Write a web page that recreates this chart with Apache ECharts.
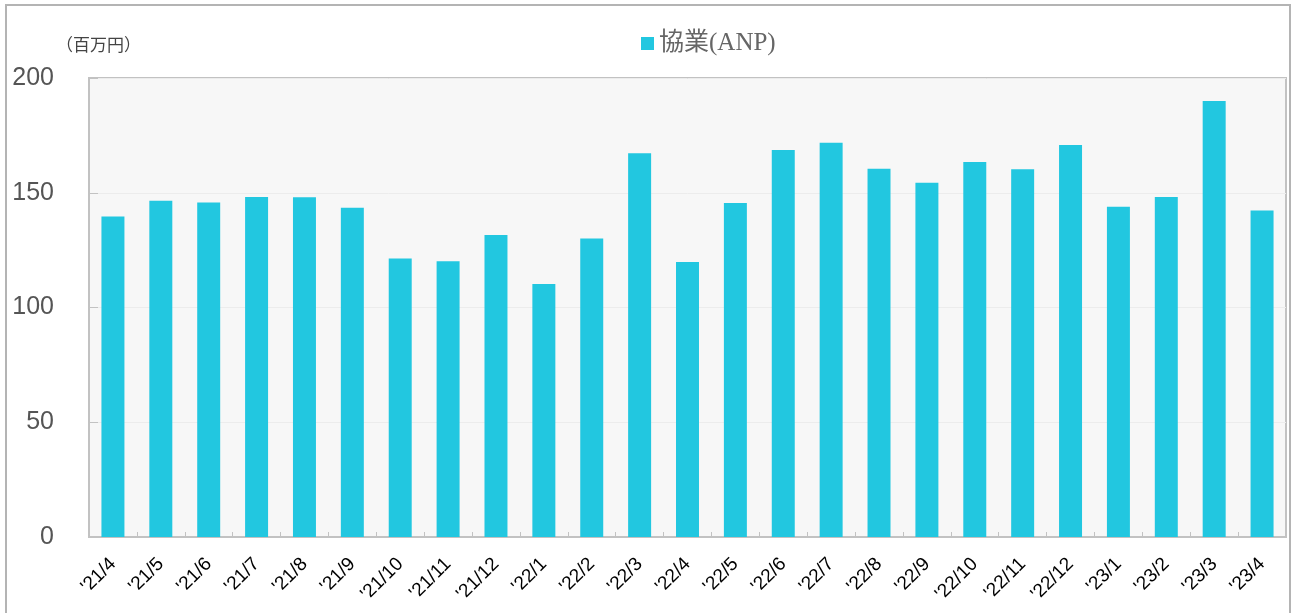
<!DOCTYPE html>
<html><head><meta charset="utf-8">
<script src="https://cdn.jsdelivr.net/npm/echarts@6/dist/echarts.min.js"></script>
<style>html,body{margin:0;padding:0;background:#fff}#c{width:1292px;height:613px}</style>
</head><body><div id="c"></div>
<script>
const categories = ["'21/4","'21/5","'21/6","'21/7","'21/8","'21/9","'21/10","'21/11","'21/12","'22/1","'22/2","'22/3","'22/4","'22/5","'22/6","'22/7","'22/8","'22/9","'22/10","'22/11","'22/12","'23/1","'23/2","'23/3","'23/4"];
const values = [139.6,146.5,145.7,148.1,148.0,143.5,121.3,120.1,131.6,110.2,130.1,167.2,119.8,145.5,168.6,171.8,160.5,154.4,163.4,160.2,170.8,143.9,148.1,190.0,142.3];
const seriesName = '協業(ANP)';
const unitLabel = '（百万円）';

const chart = echarts.init(document.getElementById('c'), null, {renderer:'canvas'});
chart.setOption({
  animation: false,
  backgroundColor: '#fff',
  graphic: [{
    type: 'rect', silent: true, z: -1,
    shape: {x: 6, y: 5, width: 1284, height: 700},
    style: {fill: 'none', stroke: '#b4b4b4', lineWidth: 2}
  }],
  title: {
    text: unitLabel, left: 51, top: 31,
    textStyle: {fontSize: 17, fontWeight: 'normal', color: '#444', fontFamily: "'Noto Sans CJK JP', sans-serif"}
  },
  legend: {
    left: 636, top: 26,
    itemWidth: 13, itemHeight: 13, itemGap: 10,
    icon: 'rect',
    textStyle: {fontSize: 25, color: '#666', fontFamily: "'Liberation Serif', 'Noto Sans CJK JP', serif"},
    data: [seriesName]
  },
  grid: {
    left: 89, right: 6, top: 78, bottom: 76,
    show: true, backgroundColor: '#f7f7f7', borderColor: '#c2c2c2', borderWidth: 2
  },
  xAxis: {
    type: 'category', data: categories,
    axisLine: {lineStyle: {color: '#c2c2c2', width: 2}},
    axisTick: {show: true, inside: true, length: 5, lineStyle: {color: '#c2c2c2'}},
    axisLabel: {rotate: 45, fontSize: 19, color: '#000', margin: 24, fontFamily: "'Liberation Sans', Arial, sans-serif", interval: 0}
  },
  yAxis: {
    type: 'value', min: 0, max: 200, interval: 50,
    axisLine: {show: true, lineStyle: {color: '#c2c2c2', width: 2}},
    axisTick: {show: true, inside: true, length: 9, lineStyle: {color: '#c2c2c2'}},
    axisLabel: {fontSize: 25, color: '#555', margin: 35, fontFamily: "'Liberation Sans', Arial, sans-serif"},
    splitLine: {show: true, lineStyle: {color: '#ececec'}}
  },
  series: [{
    name: seriesName, type: 'bar', data: values,
    barWidth: '48%',
    itemStyle: {color: '#22c7e0'}
  }]
});
</script></body></html>
